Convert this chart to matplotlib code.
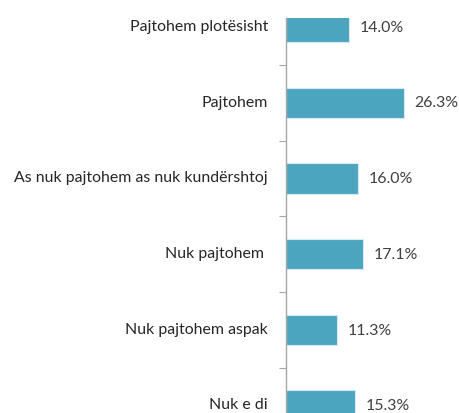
import matplotlib.pyplot as plt

categories = ["Pajtohem plotësisht", "Pajtohem", "As nuk pajtohem as nuk kundërshtoj",
              "Nuk pajtohem ", "Nuk pajtohem aspak", "Nuk e di"]
values = [14.0, 26.3, 16.0, 17.1, 11.3, 15.3]

plt.rcParams['font.family'] = ['Lato', 'DejaVu Sans']

fig = plt.figure(figsize=(4.59, 4.13), dpi=100)
# axes: left edge at x=286px, top at y=18px, runs past bottom of the picture
ax = fig.add_axes([286 / 459, 0.0, 135 / 459, (413 - 18) / 413])

pos = list(range(len(categories)))
ax.barh(pos, values, height=0.4, color='#4BA5BE', edgecolor='#d6ebf1', linewidth=0.8)

ax.set_xlim(0, 30)
ax.set_ylim((413 - 27) / 75.7, (18 - 27) / 75.7)

for p, v in zip(pos, values):
    ax.text(v + 2.3, p + 0.01, f"{v:.1f}%", va='center', ha='left', fontsize=11.4, color='#404040')

# category labels placed to the left of the axis
for p, c in zip(pos, categories):
    ax.text(-4.0, p, c, va='center', ha='right', fontsize=11.4, color='#262626', clip_on=False)

ax.set_yticks([i + 0.5 for i in range(len(categories) - 1)])
ax.set_yticklabels([])
ax.tick_params(axis='y', length=5, color='#a6a6a6', width=0.8)
ax.set_xticks([])
for s in ['top', 'right', 'bottom']:
    ax.spines[s].set_visible(False)
ax.spines['left'].set_color('#a6a6a6')
ax.spines['left'].set_linewidth(1.0)

fig.savefig('out.png', dpi=100)
